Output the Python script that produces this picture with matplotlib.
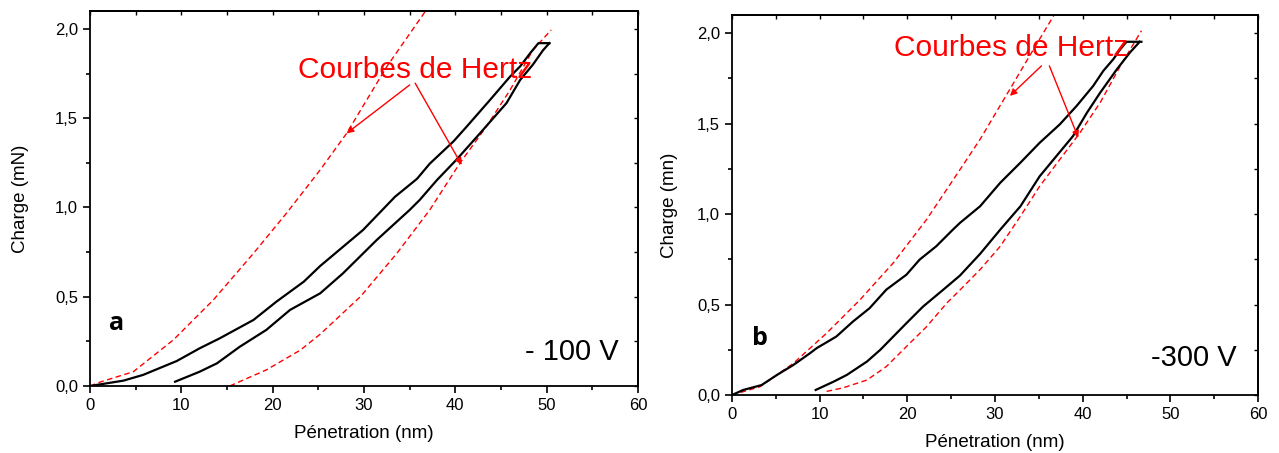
import matplotlib
matplotlib.use("Agg")
import matplotlib.pyplot as plt
from matplotlib.ticker import MultipleLocator, FuncFormatter

plt.rcParams['font.family'] = ['Liberation Sans', 'DejaVu Sans']

# ---- panel a (-100 V) ----
a_load_x = [0, 3.65, 5.8, 9.5, 12.0, 14.2, 17.9, 20.4, 23.4, 25.2, 29.9, 33.4, 35.8, 37.2,
            39.8, 41.2, 43.8, 46.0, 47.1, 48.2, 49.1, 50.3]
a_load_y = [0, 0.03, 0.062, 0.14, 0.211, 0.267, 0.37, 0.472, 0.584, 0.672, 0.874, 1.06, 1.16,
            1.245, 1.37, 1.45, 1.602, 1.733, 1.79, 1.864, 1.92, 1.92]
a_unload_x = [50.3, 49.6, 48.5, 47.1, 45.6, 42.7, 40.1, 38.0, 36.1, 35.0, 31.4, 27.7, 25.2, 21.9,
              19.3, 16.4, 13.9, 12.0, 9.31]
a_unload_y = [1.92, 1.88, 1.80, 1.714, 1.584, 1.415, 1.266, 1.154, 1.042, 0.986, 0.818, 0.631,
              0.519, 0.426, 0.314, 0.22, 0.127, 0.08, 0.024]
a_hertz1_x = [0, 1.1, 4.74, 9.12, 13.5, 17.9, 21.5, 25.2, 28.1, 32.5, 36.7]
a_hertz1_y = [0, 0.022, 0.08, 0.258, 0.482, 0.743, 0.967, 1.21, 1.415, 1.789, 2.097]
a_hertz2_x = [15.3, 19.3, 23.0, 25.2, 29.6, 33.6, 37.2, 40.5, 43.4, 46.0, 48.5, 50.5]
a_hertz2_y = [0, 0.09, 0.2, 0.29, 0.5, 0.743, 0.986, 1.248, 1.453, 1.658, 1.882, 1.994]

# ---- panel b (-300 V) ----
b_load_x = [0, 1.29, 3.38, 5.1, 7.0, 8.9, 9.66, 11.9, 13.8, 15.7, 17.6, 19.9, 21.4, 23.3, 25.2,
            26.0, 28.3, 30.6, 32.9, 35.1, 37.4, 39.3, 41.2, 42.35, 43.5, 44.3, 45.0, 46.7]
b_load_y = [0, 0.028, 0.055, 0.11, 0.166, 0.231, 0.259, 0.323, 0.406, 0.48, 0.582, 0.665, 0.748,
            0.822, 0.914, 0.951, 1.043, 1.173, 1.284, 1.394, 1.496, 1.597, 1.708, 1.791, 1.856,
            1.911, 1.952, 1.952]
b_unload_x = [46.5, 45.4, 43.9, 42.0, 40.5, 38.9, 37.0, 35.1, 32.9, 30.6, 28.3, 26.0, 24.1, 21.8,
              19.9, 18.4, 16.9, 15.4, 13.1, 11.6, 9.55]
b_unload_y = [1.952, 1.893, 1.8, 1.671, 1.561, 1.431, 1.32, 1.209, 1.043, 0.914, 0.78, 0.66, 0.582,
              0.489, 0.397, 0.323, 0.249, 0.185, 0.111, 0.074, 0.028]
b_hertz1_x = [0, 3.2, 7.0, 10.8, 14.6, 18.4, 22.2, 26.0, 28.3, 31.7, 34.4, 36.8]
b_hertz1_y = [0, 0.046, 0.175, 0.342, 0.526, 0.73, 0.97, 1.245, 1.413, 1.69, 1.911, 2.105]
b_hertz2_x = [10.8, 12.7, 15.4, 17.6, 19.9, 22.2, 24.5, 26.0, 28.3, 30.6, 32.9, 35.1, 37.4, 39.7,
              42.0, 44.3, 46.7]
b_hertz2_y = [0.02, 0.04, 0.083, 0.157, 0.268, 0.378, 0.508, 0.58, 0.693, 0.822, 0.988, 1.154,
              1.302, 1.45, 1.616, 1.819, 2.013]

fig = plt.figure(figsize=(12.79, 4.53), dpi=100)
ax1 = fig.add_axes([0.0704, 0.1479, 0.4284, 0.8278])
ax2 = fig.add_axes([0.5723, 0.128, 0.4113, 0.8389])

comma = FuncFormatter(lambda v, p: f"{v:.1f}".replace('.', ','))


def style(ax, ylabel, ypad):
    ax.set_xlim(0, 60)
    ax.set_ylim(0, 2.1)
    ax.xaxis.set_major_locator(MultipleLocator(10))
    ax.xaxis.set_minor_locator(MultipleLocator(5))
    ax.yaxis.set_major_locator(MultipleLocator(0.5))
    ax.yaxis.set_minor_locator(MultipleLocator(0.25))
    ax.yaxis.set_major_formatter(comma)
    ax.tick_params(which='both', direction='out', labelsize=12, width=1.2)
    ax.tick_params(which='major', length=5)
    ax.tick_params(which='minor', length=3)
    for s in ax.spines.values():
        s.set_linewidth(1.3)
    # inward ticks on top and right, no labels
    top = ax.secondary_xaxis('top')
    top.xaxis.set_major_locator(MultipleLocator(5))
    top.tick_params(direction='in', length=3, width=1.0, labeltop=False)
    right = ax.secondary_yaxis('right')
    right.yaxis.set_major_locator(MultipleLocator(0.25))
    right.tick_params(direction='in', length=3, width=1.0, labelright=False)
    top.spines['top'].set_linewidth(1.3)
    right.spines['right'].set_linewidth(1.3)
    ax.set_xlabel('Pénetration (nm)', fontsize=13.5, labelpad=9)
    ax.set_ylabel(ylabel, fontsize=13.5, labelpad=ypad)


def draw(ax, lx, ly, ux, uy, h1x, h1y, h2x, h2y):
    ax.plot(h1x, h1y, color='red', lw=1.0, ls=(0, (4, 2.5)))
    ax.plot(h2x, h2y, color='red', lw=1.0, ls=(0, (4, 2.5)))
    ax.plot(lx, ly, color='black', lw=1.6)
    ax.plot(ux, uy, color='black', lw=1.6)


draw(ax1, a_load_x, a_load_y, a_unload_x, a_unload_y, a_hertz1_x, a_hertz1_y, a_hertz2_x, a_hertz2_y)
draw(ax2, b_load_x, b_load_y, b_unload_x, b_unload_y, b_hertz1_x, b_hertz1_y, b_hertz2_x, b_hertz2_y)
style(ax1, 'Charge (mN)', 19)
style(ax2, 'Charge (mn)', 14)

arrow = dict(arrowstyle='-|>', color='red', lw=1.0, mutation_scale=10, shrinkA=0, shrinkB=0)

ax1.text(35.6, 1.77, 'Courbes de Hertz', color='red', fontsize=21.5, ha='center', va='center')
ax1.annotate('', xy=(28.1, 1.415), xytext=(35.0, 1.686), arrowprops=arrow)
ax1.annotate('', xy=(40.7, 1.238), xytext=(35.6, 1.696), arrowprops=arrow)
ax1.text(2.9, 0.35, 'a', fontsize=18, fontweight='bold', ha='center', va='center',
         family=['Open Sans', 'DejaVu Sans'])
ax1.text(52.8, 0.19, '- 100 V', fontsize=21, ha='center', va='center')

ax2.text(31.8, 1.92, 'Courbes de Hertz', color='red', fontsize=21.5, ha='center', va='center')
ax2.annotate('', xy=(31.7, 1.653), xytext=(35.3, 1.819), arrowprops=arrow)
ax2.annotate('', xy=(39.5, 1.422), xytext=(36.2, 1.819), arrowprops=arrow)
ax2.text(3.2, 0.314, 'b', fontsize=18, fontweight='bold', ha='center', va='center',
         family=['Open Sans', 'DejaVu Sans'])
ax2.text(52.7, 0.203, '-300 V', fontsize=21, ha='center', va='center')

fig.savefig('out.png', dpi=100)
